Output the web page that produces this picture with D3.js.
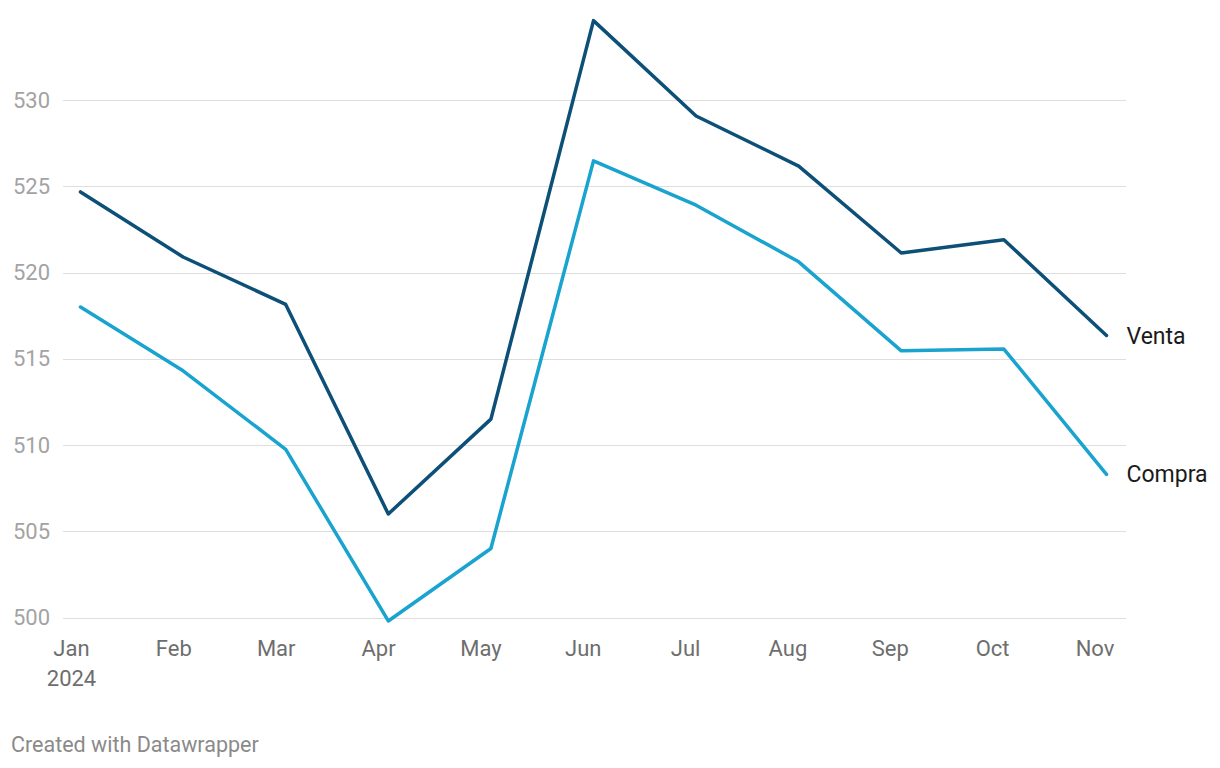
<!DOCTYPE html>
<html>
<head>
<meta charset="utf-8">
<script src="https://cdn.jsdelivr.net/npm/d3@7"></script>
<style>
  body { margin: 0; background: #fff; }
  svg { display: block; font-family: Roboto, sans-serif; }
</style>
</head>
<body>
<svg width="1220" height="768"></svg>
<script>
const months = ["Jan", "Feb", "Mar", "Apr", "May", "Jun", "Jul", "Aug", "Sep", "Oct", "Nov"];
const venta  = [524.67, 520.9, 518.15, 506.0, 511.5, 534.6, 529.07, 526.17, 521.13, 521.9, 516.35];
const compra = [518.0, 514.3, 509.75, 499.8, 504.0, 526.47, 523.9, 520.62, 515.46, 515.56, 508.3];
const yTicks = [500, 505, 510, 515, 520, 525, 530];

const svg = d3.select("svg");

const x = d3.scalePoint()
    .domain(months)
    .range([80.5, 1106.5]);

const y = d3.scaleLinear()
    .domain([500, 530])
    .range([617.5, 100]);

// grid lines + y labels
const grid = svg.append("g");
grid.selectAll("line")
    .data(yTicks)
    .join("line")
    .attr("x1", 63)
    .attr("x2", 1126)
    .attr("y1", d => Math.round(y(d)) + 0.5)
    .attr("y2", d => Math.round(y(d)) + 0.5)
    .attr("stroke", "#dedede")
    .attr("stroke-width", 1);

grid.selectAll("text")
    .data(yTicks)
    .join("text")
    .attr("x", 50)
    .attr("y", d => y(d))
    .attr("dy", "0.35em")
    .attr("text-anchor", "end")
    .attr("fill", "#a3a3a3")
    .attr("font-size", 22)
    .text(d => d);

// x labels
const xl = svg.append("g");
xl.selectAll("text")
    .data(months)
    .join("text")
    .attr("x", (d, i) => x(d) - 9 - i * 0.25)
    .attr("y", 656)
    .attr("text-anchor", "middle")
    .attr("fill", "#6e6e6e")
    .attr("font-size", 22)
    .text(d => d);

xl.append("text")
    .attr("x", x("Jan") - 9)
    .attr("y", 686)
    .attr("text-anchor", "middle")
    .attr("fill", "#6e6e6e")
    .attr("font-size", 22)
    .text("2024");

const line = d3.line()
    .x((d, i) => x(months[i]))
    .y(d => y(d));

const series = [
    {name: "Venta", values: venta, color: "#0d5077"},
    {name: "Compra", values: compra, color: "#19a3cf"}
];

series.forEach(s => {
    svg.append("path")
        .attr("d", line(s.values))
        .attr("fill", "none")
        .attr("stroke", s.color)
        .attr("stroke-width", 3.5)
        .attr("stroke-linejoin", "round")
        .attr("stroke-linecap", "round");

    svg.append("text")
        .attr("x", x(months[months.length - 1]) + 20)
        .attr("y", y(s.values[s.values.length - 1]))
        .attr("dy", "0.35em")
        .attr("fill", "#1a1a1a")
        .attr("font-size", 23)
        .text(s.name);
});

svg.append("text")
    .attr("x", 11)
    .attr("y", 752)
    .attr("fill", "#8a8a8a")
    .attr("font-size", 21.5)
    .text("Created with Datawrapper");
</script>
</body>
</html>
